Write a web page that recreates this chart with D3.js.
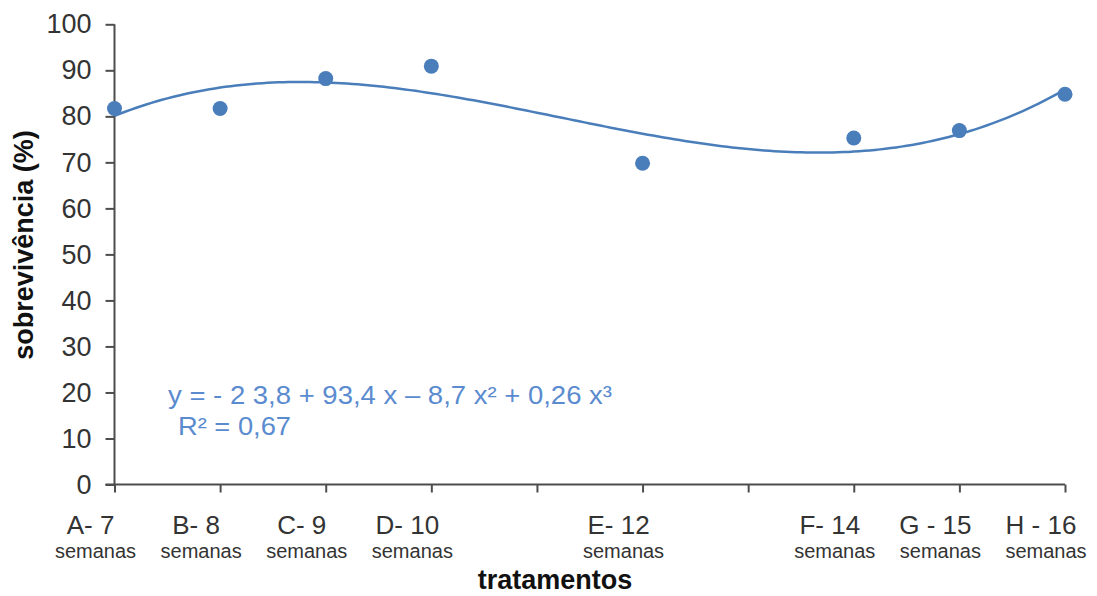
<!DOCTYPE html>
<html>
<head>
<meta charset="utf-8">
<script src="https://cdn.jsdelivr.net/npm/d3@7"></script>
<style>
  body { margin: 0; background: #fff; }
  text { font-family: "Liberation Sans", Arial, sans-serif; }
</style>
</head>
<body>
<div id="chart"></div>
<script>
// data
var semanas = [7, 8, 9, 10, 12, 14, 15, 16];
var tratamentos = ["A- 7", "B- 8", "C- 9", "D- 10", "E- 12", "F- 14", "G - 15", "H - 16"];
var sobrevivencia = [81.7, 81.7, 88.2, 90.9, 69.8, 75.3, 76.9, 84.8];
var yTicks = [0, 10, 20, 30, 40, 50, 60, 70, 80, 90, 100];
var xTicks = [7, 8, 9, 10, 11, 12, 13, 14, 15, 16];
var equacao = "y = - 2 3,8 + 93,4 x \u2013 8,7 x\u00b2 + 0,26 x\u00b3";
var r2 = "R\u00b2 = 0,67";

var blue = "#4a7ebb";
var axisColor = "#4d4d4d";

var svg = d3.select("#chart").append("svg").attr("width", 1097).attr("height", 596);

var x = d3.scaleLinear().domain([7, 16]).range([114.5, 1065]);
var y = d3.scaleLinear().domain([0, 100]).range([484.5, 24.3]);

// Y axis
var yAxis = svg.append("g")
    .attr("transform", "translate(" + x(7) + ",0)")
    .call(d3.axisLeft(y).tickValues(yTicks).tickSize(9).tickPadding(14));
yAxis.select(".domain").attr("stroke", axisColor).attr("stroke-width", 2).attr("d", "M0," + y(100) + "V" + y(0));
yAxis.selectAll(".tick line").attr("stroke", axisColor).attr("stroke-width", 2);
yAxis.selectAll(".tick text").attr("font-size", 27).attr("fill", "#333").attr("font-family", "Liberation Sans, Arial, sans-serif");

// X axis
var xAxis = svg.append("g")
    .attr("transform", "translate(0," + y(0) + ")")
    .call(d3.axisBottom(x).tickValues(xTicks).tickSize(8).tickFormat(""));
xAxis.select(".domain").attr("stroke", axisColor).attr("stroke-width", 2).attr("d", "M" + (x(7) - 9) + ",0H" + x(16));
xAxis.selectAll(".tick line").attr("stroke", axisColor).attr("stroke-width", 2);

// category labels (sit a little left of their tick, as in the original)
var lab = svg.append("g");
lab.selectAll("text.top").data(semanas).enter().append("text")
    .attr("class", "top")
    .attr("x", function (d) { return x(d) - 24; })
    .attr("y", 534)
    .attr("text-anchor", "middle")
    .attr("font-size", 26)
    .attr("fill", "#333")
    .style("white-space", "pre")
    .text(function (d, i) { return tratamentos[i]; });
lab.selectAll("text.bot").data(semanas).enter().append("text")
    .attr("class", "bot")
    .attr("x", function (d) { return x(d) - 19; })
    .attr("y", 558)
    .attr("text-anchor", "middle")
    .attr("font-size", 20)
    .attr("fill", "#333")
    .text("semanas");

// axis titles
svg.append("text")
    .attr("transform", "translate(33,245) rotate(-90)")
    .attr("text-anchor", "middle")
    .attr("font-size", 27)
    .attr("font-weight", "bold")
    .attr("fill", "#111")
    .text("sobrevivência (%)");
svg.append("text")
    .attr("x", 555).attr("y", 589)
    .attr("text-anchor", "middle")
    .attr("font-size", 27)
    .attr("font-weight", "bold")
    .attr("fill", "#111")
    .text("tratamentos");

// cubic trendline: least squares fit of the points
function cubicFit(xs, ys) {
  var n = 4, A = [], b = [];
  for (var r = 0; r < n; r++) {
    A.push([]);
    for (var c = 0; c < n; c++) A[r].push(d3.sum(xs, function (v) { return Math.pow(v, r + c); }));
    b.push(d3.sum(xs, function (v, i) { return Math.pow(v, r) * ys[i]; }));
  }
  // gaussian elimination
  for (var k = 0; k < n; k++) {
    var p = k;
    for (var i = k + 1; i < n; i++) if (Math.abs(A[i][k]) > Math.abs(A[p][k])) p = i;
    var t = A[k]; A[k] = A[p]; A[p] = t; t = b[k]; b[k] = b[p]; b[p] = t;
    for (i = k + 1; i < n; i++) {
      var f = A[i][k] / A[k][k];
      for (var j = k; j < n; j++) A[i][j] -= f * A[k][j];
      b[i] -= f * b[k];
    }
  }
  var coef = new Array(n);
  for (k = n - 1; k >= 0; k--) {
    var s = b[k];
    for (j = k + 1; j < n; j++) s -= A[k][j] * coef[j];
    coef[k] = s / A[k][k];
  }
  return coef;
}
var mx = d3.mean(semanas);
var coef = cubicFit(semanas.map(function (v) { return v - mx; }), sobrevivencia);
var fit = function (v) { var u = v - mx; return coef[0] + coef[1] * u + coef[2] * u * u + coef[3] * u * u * u; };

var line = d3.line().x(function (d) { return x(d); }).y(function (d) { return y(fit(d)); });
svg.append("path")
    .datum(d3.range(7, 16.001, 0.05))
    .attr("fill", "none")
    .attr("stroke", blue)
    .attr("stroke-width", 2.5)
    .attr("d", line);

// points
svg.append("g").selectAll("circle")
    .data(semanas)
    .enter()
    .append("circle")
      .attr("cx", function (d) { return x(d); })
      .attr("cy", function (d, i) { return y(sobrevivencia[i]); })
      .attr("r", 7.5)
      .style("fill", blue);

// equation
svg.append("text")
    .attr("x", 168).attr("y", 404)
    .attr("font-size", 25)
    .attr("fill", "#5b8bcf")
    .attr("textLength", 444)
    .attr("lengthAdjust", "spacingAndGlyphs")
    .text(equacao);
svg.append("text")
    .attr("x", 178).attr("y", 435)
    .attr("font-size", 25)
    .attr("fill", "#5b8bcf")
    .attr("textLength", 113)
    .attr("lengthAdjust", "spacingAndGlyphs")
    .text(r2);
</script>
</body>
</html>
